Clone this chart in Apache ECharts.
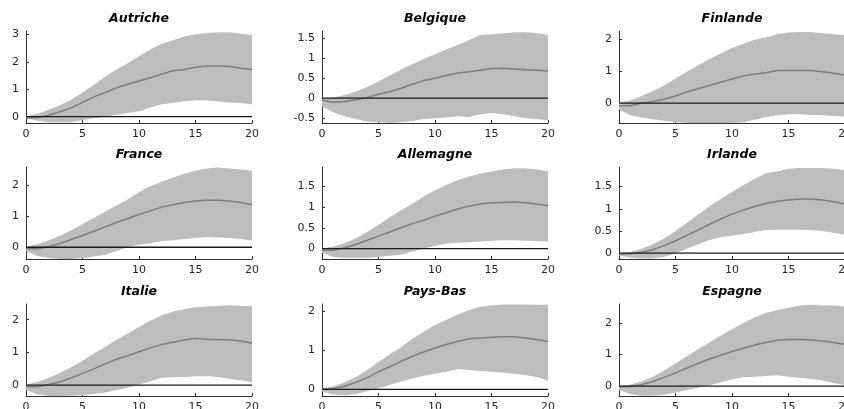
<!DOCTYPE html>
<html>
<head>
<meta charset="utf-8">
<script src="https://cdn.jsdelivr.net/npm/echarts@6/dist/echarts.min.js"></script>
<style>
html, body { margin: 0; padding: 0; background: #fff; }
#main { width: 844px; height: 409px; }
</style>
</head>
<body>
<div id="main"></div>
<script>
// horizons 0..20
const horizons = [0,1,2,3,4,5,6,7,8,9,10,11,12,13,14,15,16,17,18,19,20];
const countries = ['Autriche','Belgique','Finlande','France','Allemagne','Irlande','Italie','Pays-Bas','Espagne'];

// upper bound / median / lower bound
const autricheHaut = [0.02,0.1,0.25,0.42,0.62,0.88,1.15,1.45,1.72,1.95,2.2,2.45,2.65,2.78,2.92,3.0,3.05,3.07,3.07,3.02,2.97];
const autricheMed  = [-0.05,-0.03,0.05,0.18,0.32,0.52,0.72,0.88,1.05,1.18,1.3,1.42,1.55,1.67,1.72,1.8,1.85,1.85,1.83,1.76,1.72];
const autricheBas  = [-0.05,-0.15,-0.2,-0.2,-0.2,-0.12,-0.06,0.0,0.07,0.13,0.2,0.33,0.45,0.5,0.56,0.6,0.6,0.55,0.52,0.5,0.45];

const belgiqueHaut = [0.0,0.02,0.08,0.17,0.28,0.42,0.57,0.72,0.85,0.98,1.1,1.22,1.33,1.45,1.58,1.6,1.62,1.65,1.65,1.63,1.58];
const belgiqueMed  = [-0.05,-0.1,-0.08,-0.04,0.02,0.1,0.16,0.25,0.35,0.44,0.5,0.57,0.63,0.66,0.7,0.74,0.75,0.73,0.71,0.7,0.68];
const belgiqueBas  = [-0.2,-0.35,-0.45,-0.52,-0.58,-0.6,-0.62,-0.6,-0.57,-0.52,-0.5,-0.48,-0.45,-0.47,-0.4,-0.37,-0.4,-0.45,-0.5,-0.52,-0.55];

const finlandeHaut = [0.02,0.08,0.22,0.38,0.55,0.77,0.98,1.18,1.38,1.55,1.72,1.85,1.98,2.05,2.15,2.2,2.22,2.22,2.18,2.15,2.12];
const finlandeMed  = [-0.08,-0.08,0.0,0.05,0.12,0.22,0.35,0.45,0.55,0.65,0.75,0.85,0.9,0.95,1.02,1.02,1.02,1.02,0.98,0.93,0.87];
const finlandeBas  = [-0.2,-0.38,-0.45,-0.5,-0.55,-0.6,-0.62,-0.62,-0.62,-0.62,-0.62,-0.6,-0.52,-0.43,-0.38,-0.35,-0.35,-0.37,-0.38,-0.4,-0.42];

const franceHaut = [0.02,0.1,0.22,0.37,0.55,0.75,0.95,1.15,1.35,1.55,1.78,1.98,2.12,2.25,2.38,2.48,2.55,2.58,2.55,2.52,2.48];
const franceMed  = [-0.05,-0.05,0.02,0.12,0.25,0.38,0.52,0.66,0.8,0.93,1.06,1.18,1.3,1.38,1.45,1.5,1.52,1.52,1.5,1.45,1.38];
const franceBas  = [-0.12,-0.28,-0.35,-0.38,-0.38,-0.35,-0.3,-0.25,-0.12,0.0,0.08,0.13,0.2,0.23,0.27,0.3,0.33,0.32,0.3,0.27,0.22];

const allemagneHaut = [0.0,0.05,0.13,0.25,0.4,0.57,0.75,0.92,1.08,1.25,1.4,1.53,1.64,1.73,1.8,1.85,1.9,1.93,1.93,1.9,1.86];
const allemagneMed  = [-0.04,-0.04,0.02,0.1,0.2,0.3,0.4,0.5,0.6,0.68,0.78,0.86,0.95,1.02,1.07,1.1,1.11,1.12,1.1,1.07,1.03];
const allemagneBas  = [-0.1,-0.2,-0.22,-0.22,-0.22,-0.2,-0.17,-0.15,-0.07,0.0,0.06,0.12,0.14,0.15,0.17,0.19,0.2,0.2,0.19,0.18,0.17];

const irlandeHaut = [0.0,0.03,0.1,0.2,0.33,0.5,0.68,0.87,1.05,1.22,1.38,1.53,1.67,1.8,1.84,1.9,1.92,1.92,1.92,1.9,1.87];
const irlandeMed  = [-0.02,-0.01,0.02,0.08,0.17,0.28,0.4,0.52,0.65,0.77,0.88,0.97,1.05,1.12,1.17,1.2,1.22,1.22,1.2,1.16,1.11];
const irlandeBas  = [-0.05,-0.1,-0.12,-0.12,-0.08,0.0,0.1,0.2,0.3,0.36,0.4,0.43,0.48,0.52,0.53,0.53,0.53,0.52,0.5,0.46,0.42];

const italieHaut = [0.02,0.1,0.22,0.37,0.55,0.75,0.97,1.17,1.38,1.58,1.78,1.97,2.13,2.25,2.32,2.38,2.4,2.42,2.44,2.42,2.42];
const italieMed  = [-0.05,-0.05,0.02,0.1,0.22,0.36,0.5,0.65,0.79,0.9,1.02,1.14,1.24,1.31,1.38,1.43,1.4,1.39,1.39,1.35,1.28];
const italieBas  = [-0.15,-0.28,-0.33,-0.33,-0.32,-0.3,-0.27,-0.22,-0.15,-0.08,0.02,0.12,0.23,0.24,0.25,0.27,0.27,0.25,0.2,0.15,0.1];

const paysBasHaut = [0.02,0.08,0.18,0.32,0.5,0.7,0.9,1.08,1.3,1.48,1.65,1.78,1.92,2.03,2.12,2.15,2.18,2.18,2.18,2.17,2.17];
const paysBasMed  = [0.0,0.02,0.08,0.18,0.3,0.45,0.58,0.72,0.85,0.96,1.06,1.15,1.23,1.3,1.32,1.34,1.35,1.35,1.32,1.28,1.23];
const paysBasBas  = [-0.05,-0.13,-0.15,-0.12,-0.05,0.03,0.12,0.2,0.28,0.35,0.4,0.45,0.52,0.5,0.47,0.45,0.43,0.4,0.37,0.32,0.22];

const espagneHaut = [0.0,0.05,0.15,0.3,0.5,0.72,0.95,1.17,1.38,1.6,1.8,2.0,2.17,2.32,2.4,2.48,2.55,2.58,2.55,2.55,2.52];
const espagneMed  = [-0.02,-0.01,0.05,0.15,0.28,0.42,0.57,0.72,0.86,0.98,1.1,1.2,1.3,1.38,1.45,1.48,1.48,1.46,1.43,1.38,1.32];
const espagneBas  = [-0.12,-0.25,-0.3,-0.3,-0.27,-0.2,-0.12,-0.05,0.03,0.12,0.22,0.28,0.3,0.32,0.35,0.3,0.27,0.23,0.18,0.1,0.03];

// axis limits and tick labels
const yMins = [-0.23,-0.62,-0.62,-0.38,-0.25,-0.13,-0.33,-0.17,-0.31];
const yMaxs = [3.12,1.68,2.25,2.6,1.96,1.94,2.48,2.19,2.6];
const yTicks = [[0,1,2,3],[-0.5,0,0.5,1,1.5],[0,1,2],[0,1,2],[0,0.5,1,1.5],[0,0.5,1,1.5],[0,1,2],[0,1,2],[0,1,2]];
const xTicks = [0,5,10,15,20];

const upper = [autricheHaut,belgiqueHaut,finlandeHaut,franceHaut,allemagneHaut,irlandeHaut,italieHaut,paysBasHaut,espagneHaut];
const median = [autricheMed,belgiqueMed,finlandeMed,franceMed,allemagneMed,irlandeMed,italieMed,paysBasMed,espagneMed];
const lower = [autricheBas,belgiqueBas,finlandeBas,franceBas,allemagneBas,irlandeBas,italieBas,paysBasBas,espagneBas];

const colLeft = [26, 322, 619];
const rowTop = [31, 167, 304];
const W = 226, H = 92;
const font = 'DejaVu Sans';

let grids = [], xAxes = [], yAxes = [], titles = [], series = [];

// band drawn as one polygon: upper edge forward, lower edge backward
function bandRenderer(hi, lo) {
  return function (params, api) {
    if (params.dataIndex !== 0) return;
    const pts = [];
    horizons.forEach((h, k) => pts.push(api.coord([h, hi[k]])));
    for (let k = horizons.length - 1; k >= 0; k--) pts.push(api.coord([horizons[k], lo[k]]));
    return {
      type: 'polygon',
      shape: { points: pts },
      style: { fill: '#bdbdbd', stroke: null }
    };
  };
}

countries.forEach((name, i) => {
  const c = i % 3, r = Math.floor(i / 3);
  grids.push({ left: colLeft[c], top: rowTop[r], width: W, height: H, outerBoundsMode: 'none' });
  titles.push({
    text: name,
    left: colLeft[c] + W / 2,
    top: rowTop[r] - 19,
    textAlign: 'center',
    padding: 0,
    textStyle: { fontFamily: font, fontSize: 12.5, fontWeight: 'bold', fontStyle: 'italic', color: '#000' }
  });
  xAxes.push({
    gridIndex: i, type: 'value', min: 0, max: 20,
    axisLine: { onZero: false, lineStyle: { color: '#333', width: 1 } },
    axisTick: { inside: true, length: 3, customValues: xTicks, lineStyle: { color: '#333' } },
    axisLabel: { customValues: xTicks, margin: 6, fontFamily: font, fontSize: 11, color: '#262626' },
    splitLine: { show: false }
  });
  yAxes.push({
    gridIndex: i, type: 'value', min: yMins[i], max: yMaxs[i],
    axisLine: { show: true, onZero: false, lineStyle: { color: '#333', width: 1 } },
    axisTick: { show: true, inside: true, length: 3, customValues: yTicks[i], lineStyle: { color: '#333' } },
    axisLabel: { customValues: yTicks[i], margin: 7, fontFamily: font, fontSize: 11, color: '#262626' },
    splitLine: { show: false }
  });
  series.push({
    type: 'custom', xAxisIndex: i, yAxisIndex: i, silent: true, z: 1,
    data: horizons.map((h, k) => [h, lower[i][k], upper[i][k]]),
    encode: { x: 0, y: [1, 2] },
    renderItem: bandRenderer(upper[i], lower[i])
  });
  series.push({
    type: 'line', xAxisIndex: i, yAxisIndex: i,
    data: horizons.map((h, k) => [h, median[i][k]]),
    symbol: 'none', silent: true, z: 3,
    lineStyle: { color: '#7c7c7c', width: 1.5 }
  });
  series.push({
    type: 'line', xAxisIndex: i, yAxisIndex: i,
    data: [[0, 0], [20, 0]],
    symbol: 'none', silent: true, z: 5,
    lineStyle: { color: '#1a1a1a', width: 1.3 }
  });
});

const option = {
  animation: false,
  backgroundColor: '#fff',
  title: titles,
  grid: grids,
  xAxis: xAxes,
  yAxis: yAxes,
  series: series
};

const myChart = echarts.init(document.getElementById('main'));
myChart.setOption(option);
</script>
</body>
</html>
